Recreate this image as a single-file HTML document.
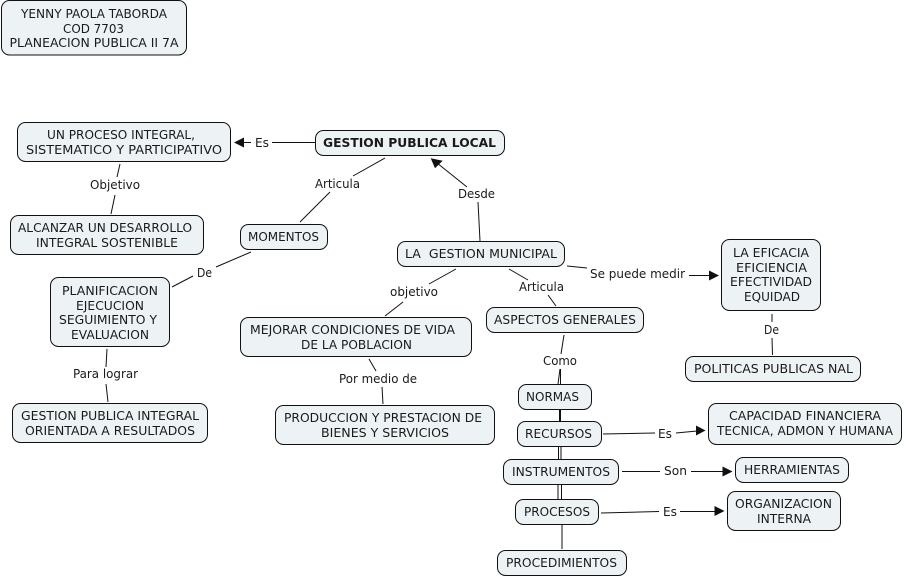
<!DOCTYPE html>
<html><head><meta charset="utf-8"><style>
html,body{margin:0;padding:0;background:#fff}
svg{display:block}
text{font-family:"DejaVu Sans","Liberation Sans",sans-serif;font-size:12px;fill:#1a1a1a}
.b rect{fill:#edf3f5;stroke:#111;stroke-width:1}
.l line{stroke:#111;stroke-width:1}
</style></head><body>
<svg width="904" height="578" viewBox="0 0 904 578" xmlns="http://www.w3.org/2000/svg">
<g class="l">
<line x1="272" y1="142.5" x2="315" y2="142.5"/><line x1="243" y1="142.5" x2="251" y2="142.5"/>
<line x1="120" y1="164" x2="117" y2="177"/><line x1="115" y1="195" x2="111" y2="214"/>
<line x1="385" y1="158" x2="353" y2="176"/><line x1="330" y1="192" x2="300" y2="222"/>
<line x1="480" y1="241" x2="478" y2="202"/><line x1="467" y1="187" x2="437" y2="163"/>
<line x1="251" y1="252" x2="216" y2="267"/><line x1="193" y1="276" x2="172" y2="287"/>
<line x1="456" y1="269" x2="429" y2="284"/><line x1="403" y1="302" x2="385" y2="316"/>
<line x1="509" y1="269" x2="528" y2="280"/><line x1="548" y1="295" x2="556" y2="306"/>
<line x1="567" y1="266" x2="587" y2="268"/><line x1="689" y1="275.5" x2="710" y2="275.5"/>
<line x1="772" y1="314" x2="772" y2="322"/><line x1="772" y1="338" x2="772.5" y2="355"/>
<line x1="107" y1="349" x2="106" y2="367"/><line x1="106" y1="384" x2="108" y2="402"/>
<line x1="369" y1="359" x2="376" y2="371"/><line x1="382" y1="387" x2="383" y2="404"/>
<line x1="564" y1="335" x2="561" y2="354"/>
<line x1="560" y1="369" x2="558" y2="384"/><line x1="560.5" y1="369" x2="560.5" y2="421"/><line x1="559.5" y1="385" x2="559.5" y2="421"/>
<line x1="558.5" y1="446" x2="558.5" y2="460"/><line x1="561" y1="446" x2="561" y2="460"/>
<line x1="558" y1="484" x2="558" y2="500"/><line x1="561.5" y1="484" x2="561.5" y2="500"/>
<line x1="562" y1="524" x2="562" y2="549"/>
<line x1="603" y1="434" x2="655" y2="433"/><line x1="676" y1="433" x2="697" y2="431"/>
<line x1="622" y1="471.5" x2="660" y2="471.5"/><line x1="691" y1="471.5" x2="724" y2="471.5"/>
<line x1="601" y1="513" x2="659" y2="511.5"/><line x1="680" y1="511.5" x2="716" y2="511.5"/>
</g>
<g fill="#111">
<polygon points="234,142.5 244,137.5 244,147.5"/>
<polygon points="430.7,158.3 442.7,160.7 435,168.3"/>
<polygon points="719,275.5 709,270.5 709,280.5"/>
<polygon points="705.5,430.5 696,425.5 696,435.5"/>
<polygon points="732.5,471.5 722.5,466.5 722.5,476.5"/>
<polygon points="724.5,511 714.5,506 714.5,516"/>
</g>
<g class="b">
<rect x="1.5" y="0.5" width="185" height="54.5" rx="8"/>
<rect x="17.5" y="122.5" width="213" height="39" rx="8"/>
<rect x="10.5" y="215.5" width="193" height="39" rx="8"/>
<rect x="315.5" y="130.5" width="189" height="25" rx="8"/>
<rect x="240.5" y="224.5" width="87" height="25" rx="8"/>
<rect x="397.5" y="241.5" width="167" height="25" rx="8"/>
<rect x="50.5" y="277.5" width="119" height="69" rx="8"/>
<rect x="240.5" y="317.5" width="231" height="39" rx="8"/>
<rect x="486.5" y="307.5" width="157" height="25" rx="8"/>
<rect x="721.5" y="239.5" width="99" height="71" rx="8"/>
<rect x="685.5" y="356.5" width="175" height="25" rx="8"/>
<rect x="12.5" y="403.5" width="195" height="39" rx="8"/>
<rect x="275.5" y="405.5" width="219" height="39" rx="8"/>
<rect x="518.5" y="384.5" width="73" height="25" rx="8"/>
<rect x="517.5" y="421.5" width="84" height="25" rx="8"/>
<rect x="503.5" y="459.5" width="115" height="25" rx="8"/>
<rect x="515.5" y="499.5" width="83" height="25" rx="8"/>
<rect x="497.5" y="550.5" width="129" height="25" rx="8"/>
<rect x="708.5" y="403.5" width="193" height="41" rx="8"/>
<rect x="735.5" y="457.5" width="113" height="25" rx="8"/>
<rect x="727.5" y="491.5" width="113" height="39" rx="8"/>
</g>
<g>
<text x="21" y="18" textLength="146" lengthAdjust="spacingAndGlyphs">YENNY PAOLA TABORDA</text>
<text x="63" y="33" textLength="61" lengthAdjust="spacingAndGlyphs">COD 7703</text>
<text x="9.5" y="47" textLength="169" lengthAdjust="spacingAndGlyphs">PLANEACION PUBLICA II 7A</text>
<text x="47" y="139" textLength="148" lengthAdjust="spacingAndGlyphs">UN PROCESO INTEGRAL,</text>
<text x="26" y="154" textLength="196" lengthAdjust="spacingAndGlyphs">SISTEMATICO Y PARTICIPATIVO</text>
<text x="18" y="232" textLength="174" lengthAdjust="spacingAndGlyphs">ALCANZAR UN DESARROLLO</text>
<text x="36" y="247" textLength="142" lengthAdjust="spacingAndGlyphs">INTEGRAL SOSTENIBLE</text>
<text x="323" y="147" textLength="173" lengthAdjust="spacingAndGlyphs" font-weight="bold">GESTION PUBLICA LOCAL</text>
<text x="248" y="241" textLength="71" lengthAdjust="spacingAndGlyphs">MOMENTOS</text>
<text x="405" y="258" textLength="152" lengthAdjust="spacingAndGlyphs" xml:space="preserve">LA  GESTION MUNICIPAL</text>
<text x="62" y="295" textLength="96" lengthAdjust="spacingAndGlyphs">PLANIFICACION</text>
<text x="76" y="310" textLength="68" lengthAdjust="spacingAndGlyphs">EJECUCION</text>
<text x="59" y="324" textLength="98" lengthAdjust="spacingAndGlyphs">SEGUIMIENTO Y</text>
<text x="71" y="339" textLength="78" lengthAdjust="spacingAndGlyphs">EVALUACION</text>
<text x="250" y="334" textLength="205" lengthAdjust="spacingAndGlyphs">MEJORAR CONDICIONES DE VIDA</text>
<text x="301" y="349" textLength="111" lengthAdjust="spacingAndGlyphs">DE LA POBLACION</text>
<text x="494" y="324" textLength="142" lengthAdjust="spacingAndGlyphs">ASPECTOS GENERALES</text>
<text x="733" y="257" textLength="76" lengthAdjust="spacingAndGlyphs">LA EFICACIA</text>
<text x="736" y="272" textLength="71" lengthAdjust="spacingAndGlyphs">EFICIENCIA</text>
<text x="730" y="286" textLength="82" lengthAdjust="spacingAndGlyphs">EFECTIVIDAD</text>
<text x="744" y="301" textLength="56" lengthAdjust="spacingAndGlyphs">EQUIDAD</text>
<text x="694" y="373" textLength="159" lengthAdjust="spacingAndGlyphs">POLITICAS PUBLICAS NAL</text>
<text x="21" y="420" textLength="178" lengthAdjust="spacingAndGlyphs">GESTION PUBLICA INTEGRAL</text>
<text x="25" y="435" textLength="170" lengthAdjust="spacingAndGlyphs">ORIENTADA A RESULTADOS</text>
<text x="284" y="422" textLength="198" lengthAdjust="spacingAndGlyphs">PRODUCCION Y PRESTACION DE</text>
<text x="321" y="437" textLength="128" lengthAdjust="spacingAndGlyphs">BIENES Y SERVICIOS</text>
<text x="526" y="401" textLength="53" lengthAdjust="spacingAndGlyphs">NORMAS</text>
<text x="525" y="438" textLength="67" lengthAdjust="spacingAndGlyphs">RECURSOS</text>
<text x="512" y="476" textLength="98" lengthAdjust="spacingAndGlyphs">INSTRUMENTOS</text>
<text x="524" y="516" textLength="66" lengthAdjust="spacingAndGlyphs">PROCESOS</text>
<text x="506" y="567" textLength="111" lengthAdjust="spacingAndGlyphs">PROCEDIMIENTOS</text>
<text x="729" y="420" textLength="152" lengthAdjust="spacingAndGlyphs">CAPACIDAD FINANCIERA</text>
<text x="717" y="435" textLength="176" lengthAdjust="spacingAndGlyphs">TECNICA, ADMON Y HUMANA</text>
<text x="744" y="474" textLength="96" lengthAdjust="spacingAndGlyphs">HERRAMIENTAS</text>
<text x="735" y="508" textLength="97" lengthAdjust="spacingAndGlyphs">ORGANIZACION</text>
<text x="757" y="523" textLength="54" lengthAdjust="spacingAndGlyphs">INTERNA</text>
<text x="255" y="147" textLength="14" lengthAdjust="spacingAndGlyphs">Es</text>
<text x="90" y="189" textLength="50" lengthAdjust="spacingAndGlyphs">Objetivo</text>
<text x="315" y="188" textLength="45" lengthAdjust="spacingAndGlyphs">Articula</text>
<text x="458" y="198" textLength="37" lengthAdjust="spacingAndGlyphs">Desde</text>
<text x="197" y="277" textLength="15" lengthAdjust="spacingAndGlyphs">De</text>
<text x="390" y="296" textLength="48" lengthAdjust="spacingAndGlyphs">objetivo</text>
<text x="519" y="291" textLength="45" lengthAdjust="spacingAndGlyphs">Articula</text>
<text x="590" y="278" textLength="95" lengthAdjust="spacingAndGlyphs">Se puede medir</text>
<text x="764" y="334" textLength="15" lengthAdjust="spacingAndGlyphs">De</text>
<text x="73" y="378" textLength="65" lengthAdjust="spacingAndGlyphs">Para lograr</text>
<text x="339" y="383" textLength="78" lengthAdjust="spacingAndGlyphs">Por medio de</text>
<text x="543" y="365" textLength="34" lengthAdjust="spacingAndGlyphs">Como</text>
<text x="658" y="438" textLength="14" lengthAdjust="spacingAndGlyphs">Es</text>
<text x="664" y="475" textLength="23" lengthAdjust="spacingAndGlyphs">Son</text>
<text x="663" y="516" textLength="14" lengthAdjust="spacingAndGlyphs">Es</text>
</g>
</svg>
</body></html>
